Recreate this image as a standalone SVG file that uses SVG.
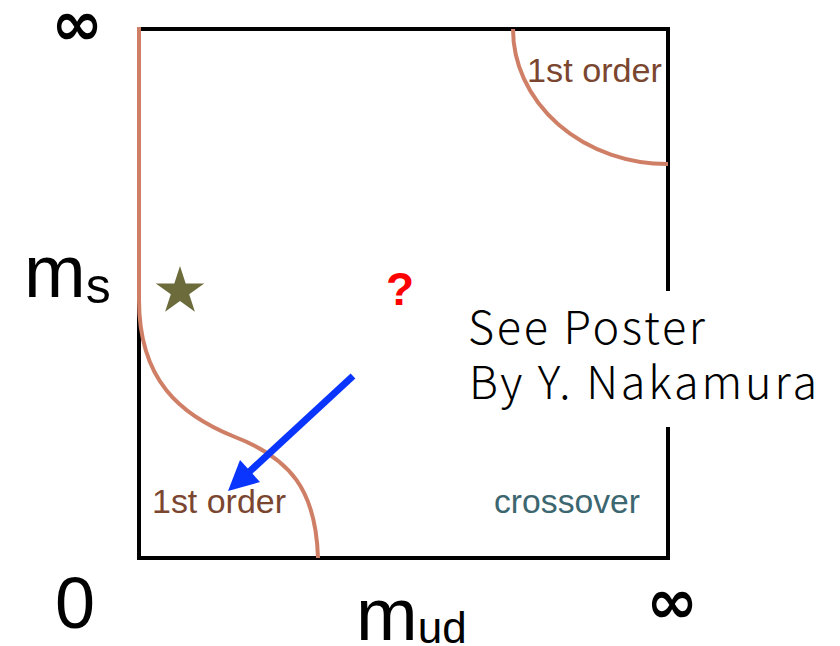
<svg xmlns="http://www.w3.org/2000/svg" width="840" height="646" viewBox="0 0 840 646">
  <style>
    .frame { fill: none; stroke: #000; stroke-width: 4; }
    .boundary { fill: none; stroke: #cf7f66; stroke-width: 4; stroke-linecap: butt; }
    .order { font-family: "Liberation Sans", Arial, sans-serif; font-size: 33px; fill: #7a4630; }
    .cross { font-family: "Liberation Sans", Arial, sans-serif; font-size: 33px; fill: #3c6670; }
    .axis { font-family: "Liberation Sans", Arial, sans-serif; fill: #000; }
    .note { font-family: "Noto Sans CJK JP", "Noto Sans", sans-serif; font-size: 45px; font-weight: 300; fill: #000; }
    .inf { font-family: "DejaVu Sans", sans-serif; font-size: 62px; font-weight: bold; fill: #000; }
    .arrow { stroke: #0a35ff; stroke-width: 7; fill: none; }
    .arrowhead { fill: #0a35ff; }
  </style>
  <rect width="840" height="646" fill="#fff"/>

  <g id="frame">
    <rect class="frame" x="139" y="29" width="529" height="529"/>
  </g>

  <g id="boundaries">
    <path class="boundary" d="M139,27 V300 C139,380 180,415 235,437 C290,458 316,490 318,558"/>
    <path class="boundary" d="M513,29 A155 135 0 0 0 668,164"/>
  </g>

  <g id="region-labels">
    <text class="order" x="527" y="82" textLength="135" lengthAdjust="spacingAndGlyphs">1st order</text>
    <text class="order" x="152" y="513" textLength="134" lengthAdjust="spacingAndGlyphs">1st order</text>
    <text class="cross" x="494" y="513" textLength="146" lengthAdjust="spacingAndGlyphs">crossover</text>
  </g>

  <g id="star">
    <polygon fill="#6b6b3b" points="180,266 185.7,283.5 204.2,283.5 189.2,294.3 194.9,311.8 180,301 165.1,311.8 170.8,294.3 155.8,283.5 174.3,283.5"/>
  </g>

  <g id="question">
    <text x="400" y="305" text-anchor="middle" font-family="Liberation Sans, Arial, sans-serif" font-weight="bold" font-size="46" fill="#ff0000">?</text>
  </g>

  <g id="connectors">
    <line class="arrow" x1="353" y1="376" x2="248" y2="473"/>
    <polygon class="arrowhead" points="228,491 240,460 260,482"/>
  </g>

  <g id="note">
    <rect x="455" y="291" width="385" height="136" fill="#fff"/>
    <text class="note" x="468" y="344" textLength="237" lengthAdjust="spacing">See Poster</text>
    <text class="note" x="469" y="399" textLength="348" lengthAdjust="spacing">By Y. Nakamura</text>
  </g>

  <g id="axis-labels">
    <text class="inf" x="77" y="45" text-anchor="middle">∞</text>
    <text class="inf" x="672" y="623" text-anchor="middle">∞</text>
    <text class="axis" x="55" y="628" font-size="72">0</text>
    <text class="axis" x="24" y="297" font-size="74">m<tspan font-size="50" dy="6">s</tspan></text>
    <text class="axis" x="356" y="640" font-size="74">m<tspan font-size="44" dy="3">ud</tspan></text>
  </g>
</svg>
